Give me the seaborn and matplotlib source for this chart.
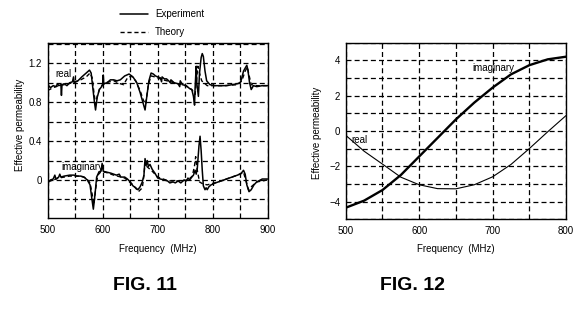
import pandas as pd
import seaborn as sns
import matplotlib.pyplot as plt
from matplotlib.ticker import MultipleLocator

# ---- FIG. 11 data ----
real_exp_freq = [500, 505, 510, 515, 518, 520, 524, 525, 526, 530, 535, 540, 545, 547, 548,
                 555, 562, 570, 576, 579, 582, 585, 587, 590, 594, 598, 600, 601, 602, 608,
                 614, 620, 626, 632, 640, 648, 655, 662, 668, 673, 677, 680, 684, 688, 692,
                 696, 700, 705, 707, 708, 712, 716, 720, 723, 724, 730, 737, 740, 741, 745,
                 752, 758, 762, 765, 767, 768, 770, 771, 774, 776, 779, 781, 783, 786, 789,
                 795, 805, 815, 825, 835, 845, 850, 852, 856, 860, 862, 864, 867, 870, 874,
                 880, 890, 900]
real_exp = [0.98, 0.95, 0.97, 0.96, 0.99, 0.97, 0.98, 0.87, 0.98, 0.99, 0.97, 1.00, 1.01, 1.06, 1.00,
            1.02, 1.06, 1.10, 1.13, 1.10, 0.95, 0.80, 0.72, 0.85, 0.93, 0.96, 0.99, 1.08, 0.99, 1.00,
            1.03, 1.03, 1.02, 1.03, 1.07, 1.09, 1.06, 1.00, 0.90, 0.80, 0.72, 0.85, 1.02, 1.10, 1.09,
            1.07, 1.06, 1.05, 1.01, 1.06, 1.04, 1.04, 1.02, 1.00, 1.03, 1.00, 0.99, 0.96, 1.02, 0.98,
            0.97, 0.94, 0.93, 0.86, 0.77, 0.95, 1.17, 1.00, 0.86, 1.10, 1.26, 1.30, 1.27, 1.12, 1.02,
            0.98, 0.97, 0.97, 0.97, 0.98, 0.99, 1.00, 1.03, 1.12, 1.16, 1.18, 1.13, 1.00, 0.93, 0.97,
            0.96, 0.97, 0.97]

real_th_freq = [500, 510, 520, 530, 545, 560, 570, 577, 581, 584, 587, 590, 595, 605, 620,
                632, 638, 645, 652, 660, 668, 674, 678, 683, 688, 695, 710, 730, 750, 762,
                768, 771, 773, 776, 780, 790, 820, 845, 853, 859, 863, 866, 870, 880, 900]
real_th = [0.92, 0.95, 0.97, 0.98, 1.00, 1.03, 1.06, 1.10, 1.05, 0.90, 0.78, 0.86, 0.95, 1.00, 1.02,
           0.99, 0.98, 1.05, 1.07, 1.02, 0.92, 0.82, 0.78, 0.98, 1.07, 1.06, 1.03, 1.00, 0.97, 0.93,
           0.88, 1.05, 1.17, 1.10, 1.02, 0.97, 0.97, 0.98, 1.02, 1.12, 1.16, 1.08, 0.98, 0.97, 0.97]

imag_exp_freq = [500, 505, 510, 513, 515, 520, 522, 524, 530, 540, 548, 553, 560, 566, 572,
                 577, 580, 583, 586, 589, 593, 597, 599, 601, 608, 615, 620, 625, 630, 633,
                 640, 645, 650, 655, 660, 664, 668, 672, 675, 677, 679, 681, 683, 686, 690,
                 695, 700, 705, 712, 718, 722, 728, 732, 737, 742, 748, 752, 755, 758, 762,
                 765, 768, 770, 772, 775, 777, 779, 781, 783, 786, 788, 790, 793, 797, 805,
                 815, 825, 835, 845, 852, 856, 859, 862, 866, 870, 875, 880, 890, 900]
imag_exp = [-0.03, 0.00, 0.01, 0.05, 0.01, 0.03, 0.06, 0.03, 0.04, 0.05, 0.05, 0.04, 0.04, 0.03, 0.00,
            -0.05, -0.18, -0.30, -0.15, 0.03, 0.08, 0.09, 0.17, 0.09, 0.08, 0.07, 0.06, 0.05, 0.06, 0.03,
            0.03, 0.01, -0.02, -0.06, -0.08, -0.10, -0.07, -0.02, 0.05, 0.22, 0.15, 0.20, 0.14, 0.16, 0.11,
            0.07, 0.02, 0.01, 0.00, -0.01, -0.03, -0.02, -0.03, -0.01, -0.03, 0.00, -0.01, 0.02, 0.00, 0.03,
            0.05, 0.10, 0.06, 0.12, 0.35, 0.45, 0.30, 0.10, -0.06, -0.10, -0.08, -0.10, -0.07, -0.05, -0.03,
            -0.01, 0.01, 0.03, 0.05, 0.07, 0.10, 0.06, -0.05, -0.12, -0.10, -0.05, -0.02, 0.01, 0.01]

imag_th_freq = [500, 520, 540, 560, 570, 577, 581, 584, 587, 591, 596, 605, 620, 640, 655,
                665, 672, 675, 677, 680, 690, 700, 720, 740, 755, 763, 767, 769, 772, 776,
                782, 790, 810, 830, 850, 856, 860, 865, 870, 880, 900]
imag_th = [-0.02, 0.02, 0.04, 0.04, 0.02, -0.03, -0.15, -0.25, -0.10, 0.05, 0.08, 0.08, 0.05, 0.02, -0.05,
           -0.12, -0.08, 0.05, 0.18, 0.14, 0.09, 0.03, -0.01, -0.01, 0.00, 0.04, 0.15, 0.24, 0.10, -0.02,
           -0.04, -0.05, -0.02, 0.02, 0.06, 0.08, 0.00, -0.10, -0.07, -0.02, 0.00]

# ---- FIG. 12 data ----
fig12_freq = [500, 525, 550, 575, 600, 625, 650, 675, 700, 725, 750, 775, 800]
fig12_imag = [-4.35, -3.95, -3.35, -2.50, -1.45, -0.40, 0.65, 1.60, 2.45, 3.20, 3.72, 4.05, 4.20]
fig12_real = [-0.25, -1.15, -1.88, -2.62, -3.05, -3.27, -3.28, -3.05, -2.60, -1.90, -1.00, -0.05, 0.87]

sns.set_style('white')
plt.rcParams['font.family'] = ['Liberation Sans Narrow', 'Liberation Sans', 'DejaVu Sans']
plt.rcParams['font.size'] = 7
for key in ('text.color', 'axes.labelcolor', 'xtick.color', 'ytick.color'):
    plt.rcParams[key] = 'black'

fig = plt.figure(figsize=(5.83, 3.2), dpi=100)
ax1 = fig.add_axes([0.0818, 0.319, 0.3774, 0.547])
ax2 = fig.add_axes([0.593, 0.315, 0.378, 0.552])

grid_kw = dict(color='black', linestyle=(0, (4, 2.5)), linewidth=0.9)
dash = (3, 2)

# FIG. 11
sns.lineplot(x=real_exp_freq, y=real_exp, ax=ax1, color='black', linewidth=1.1,
             sort=False, estimator=None, label='Experiment')
sns.lineplot(x=real_th_freq, y=real_th, ax=ax1, color='black', linewidth=1.0,
             sort=False, estimator=None, label='Theory')
ax1.lines[-1].set_dashes(dash)
sns.lineplot(x=imag_exp_freq, y=imag_exp, ax=ax1, color='black', linewidth=1.1,
             sort=False, estimator=None)
sns.lineplot(x=imag_th_freq, y=imag_th, ax=ax1, color='black', linewidth=1.0,
             sort=False, estimator=None)
ax1.lines[-1].set_dashes(dash)

ax1.set_xlim(500, 900)
ax1.set_ylim(-0.39, 1.41)
ax1.xaxis.set_major_locator(MultipleLocator(100))
ax1.xaxis.set_minor_locator(MultipleLocator(50))
ax1.set_yticks([0, 0.4, 0.8, 1.2])
ax1.set_yticklabels(['0', '0.4', '0.8', '1.2'])
ax1.yaxis.set_minor_locator(MultipleLocator(0.2))
ax1.text(514, 1.087, 'real', fontsize=7, va='center')
ax1.text(525, 0.133, 'imaginary', fontsize=7, va='center')

# FIG. 12
sns.lineplot(x=fig12_freq, y=fig12_imag, ax=ax2, color='black', linewidth=1.7,
             sort=False, estimator=None)
sns.lineplot(x=fig12_freq, y=fig12_real, ax=ax2, color='black', linewidth=0.8,
             sort=False, estimator=None)
ax2.set_xlim(500, 800)
ax2.set_ylim(-5, 5)
ax2.xaxis.set_major_locator(MultipleLocator(100))
ax2.xaxis.set_minor_locator(MultipleLocator(50))
ax2.set_yticks([-4, -2, 0, 2, 4])
ax2.yaxis.set_minor_locator(MultipleLocator(1))
ax2.text(673, 3.54, 'imaginary', fontsize=7, va='center')
ax2.text(508, -0.5, 'real', fontsize=7, va='center')

for ax in (ax1, ax2):
    ax.grid(True, which='both', **grid_kw)
    ax.tick_params(which='both', length=0, labelsize=7)
    ax.tick_params(axis='x', pad=5)
    ax.tick_params(axis='y', pad=4)
    for sp in ax.spines.values():
        sp.set_color('black')
        sp.set_linewidth(1.0)
    ax.set_xlabel('Frequency  (MHz)', fontsize=7)
    ax.set_ylabel('Effective permeability', fontsize=7)
    if ax.get_legend() is not None:
        ax.get_legend().remove()

ax1.xaxis.set_label_coords(0.5, -0.149)
ax1.yaxis.set_label_coords(-0.105, 0.53)
ax2.xaxis.set_label_coords(0.5, -0.14)
ax2.yaxis.set_label_coords(-0.108, 0.49)

handles = ax1.lines[:2]
fig.legend(handles, ['Experiment', 'Theory'], loc='upper left',
           bbox_to_anchor=(120 / 583, 1 - 9 / 320), frameon=False, fontsize=7,
           handlelength=2.9, handletextpad=0.7, labelspacing=0.85,
           borderpad=0, borderaxespad=0)

fig.text(145 / 583, 1 - 285 / 320, 'FIG. 11', fontsize=14, fontweight='bold',
         family='Liberation Sans', ha='center', va='center')
fig.text(412 / 583, 1 - 285 / 320, 'FIG. 12', fontsize=14, fontweight='bold',
         family='Liberation Sans', ha='center', va='center')

fig.savefig('out.png', dpi=100, facecolor='white')
